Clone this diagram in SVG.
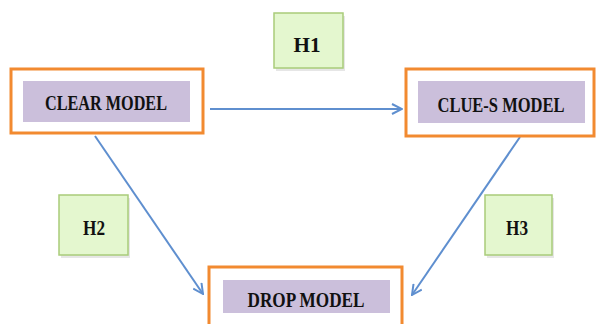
<svg xmlns="http://www.w3.org/2000/svg" width="596" height="324" viewBox="0 0 596 324">
<defs>
<style>
.outer{fill:#ffffff;stroke:#f28a30;stroke-width:3}
.inner{fill:#cbbfdb;stroke:none}
.hyp{fill:#e4f7cf;stroke:#a9cc7a;stroke-width:1.5}
.shadow{fill:#c8c8c8;opacity:0.45}
.lbl{font-family:"Liberation Serif",serif;font-weight:bold;fill:#111111;text-anchor:middle;font-size:20px}
.conn{stroke:#5f8fcf;stroke-width:2;fill:none}
</style>
<marker id="arr" viewBox="0 0 12 12" refX="11" refY="6" markerWidth="12" markerHeight="12" markerUnits="userSpaceOnUse" orient="auto">
<path d="M1,1 L11,6 L1,11" fill="none" stroke="#5f8fcf" stroke-width="2"/>
</marker>
</defs>
<rect width="596" height="324" fill="#ffffff"/>
<g id="connectors">
<line class="conn" x1="210" y1="109" x2="402" y2="109" marker-end="url(#arr)"/>
<line class="conn" x1="95" y1="136" x2="203" y2="294" marker-end="url(#arr)"/>
<line class="conn" x1="520" y1="137" x2="412" y2="295" marker-end="url(#arr)"/>
</g>
<g id="clear">
<rect class="outer" x="11" y="69" width="192" height="64"/>
<rect class="inner" x="23" y="81" width="167" height="41"/>
<text class="lbl" x="106" y="110" textLength="122" lengthAdjust="spacingAndGlyphs">CLEAR MODEL</text>
</g>
<g id="clues">
<rect class="outer" x="406" y="69" width="188" height="67"/>
<rect class="inner" x="418" y="81" width="167" height="42"/>
<text class="lbl" x="501" y="112" textLength="127" lengthAdjust="spacingAndGlyphs">CLUE-S MODEL</text>
</g>
<g id="drop">
<rect class="outer" x="209" y="267" width="193" height="62"/>
<rect class="inner" x="223" y="280" width="167" height="33"/>
<text class="lbl" x="306" y="307" textLength="117" lengthAdjust="spacingAndGlyphs">DROP MODEL</text>
</g>
<g id="h1">
<rect class="shadow" x="276" y="16" width="69" height="55"/>
<rect class="hyp" x="274" y="13" width="69" height="55"/>
<text class="lbl" x="307" y="52" textLength="27" lengthAdjust="spacingAndGlyphs">H1</text>
</g>
<g id="h2">
<rect class="shadow" x="61" y="198" width="69" height="60"/>
<rect class="hyp" x="59" y="195" width="69" height="60"/>
<text class="lbl" x="94" y="235" textLength="22" lengthAdjust="spacingAndGlyphs">H2</text>
</g>
<g id="h3">
<rect class="shadow" x="487" y="198" width="67" height="60"/>
<rect class="hyp" x="485" y="195" width="67" height="60"/>
<text class="lbl" x="517" y="235" textLength="22" lengthAdjust="spacingAndGlyphs">H3</text>
</g>
</svg>
